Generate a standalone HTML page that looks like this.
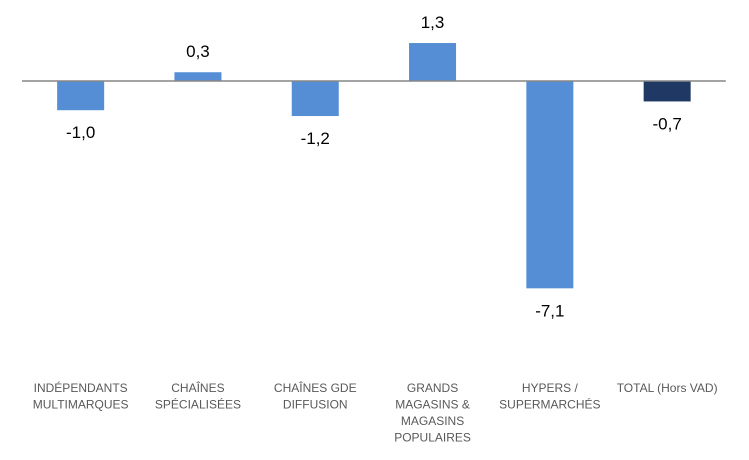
<!DOCTYPE html>
<html><head><meta charset="utf-8"><style>
body{margin:0;background:#fff;}
svg{display:block;font-family:"Liberation Sans",sans-serif;}
</style></head><body>
<svg id="chart" width="749" height="460" viewBox="0 0 749 460"></svg>
<script>
const categories=[["INDÉPENDANTS","MULTIMARQUES"],["CHAÎNES","SPÉCIALISÉES"],["CHAÎNES GDE","DIFFUSION"],["GRANDS","MAGASINS &","MAGASINS","POPULAIRES"],["HYPERS /","SUPERMARCHÉS"],["TOTAL (Hors VAD)"]];
const values=[-1.0,0.3,-1.2,1.3,-7.1,-0.7];
const valueLabels=["-1,0","0,3","-1,2","1,3","-7,1","-0,7"];
const isTotal=[false,false,false,false,false,true];

const svg=document.getElementById('chart');
const NS='http://www.w3.org/2000/svg';
const zeroY=81, scale=29.2, x0=22, step=117.3, bw=47;
const y=v=>zeroY-v*scale;
const xc=i=>x0+step*(i+0.5);
function mk(t,a){const e=document.createElementNS(NS,t);for(const k in a)e.setAttribute(k,a[k]);svg.appendChild(e);return e;}
values.forEach((v,i)=>{
  const top=Math.min(y(v),zeroY), h=Math.abs(y(v)-zeroY);
  const r=mk('rect',{x:xc(i)-bw/2,y:top,width:bw,height:h,fill:isTotal[i]?'#1f3864':'#558ed5'});
  
  
  const ly=v>=0?y(v)-15:y(v)+28;
  const t=mk('text',{x:xc(i),y:ly,'text-anchor':'middle','font-size':17,fill:'#000'});
  t.textContent=valueLabels[i];
  
  
  categories[i].forEach((line,j)=>{
    const c=mk('text',{x:xc(i),y:392+j*16.5,'text-anchor':'middle','font-size':12,fill:'#595959'});
    c.textContent=line;
    
    
  });
});
const ax=mk('line',{x1:x0,x2:x0+step*6,y1:zeroY,y2:zeroY,stroke:'#868686','stroke-width':1.5});


</script>
</body></html>
